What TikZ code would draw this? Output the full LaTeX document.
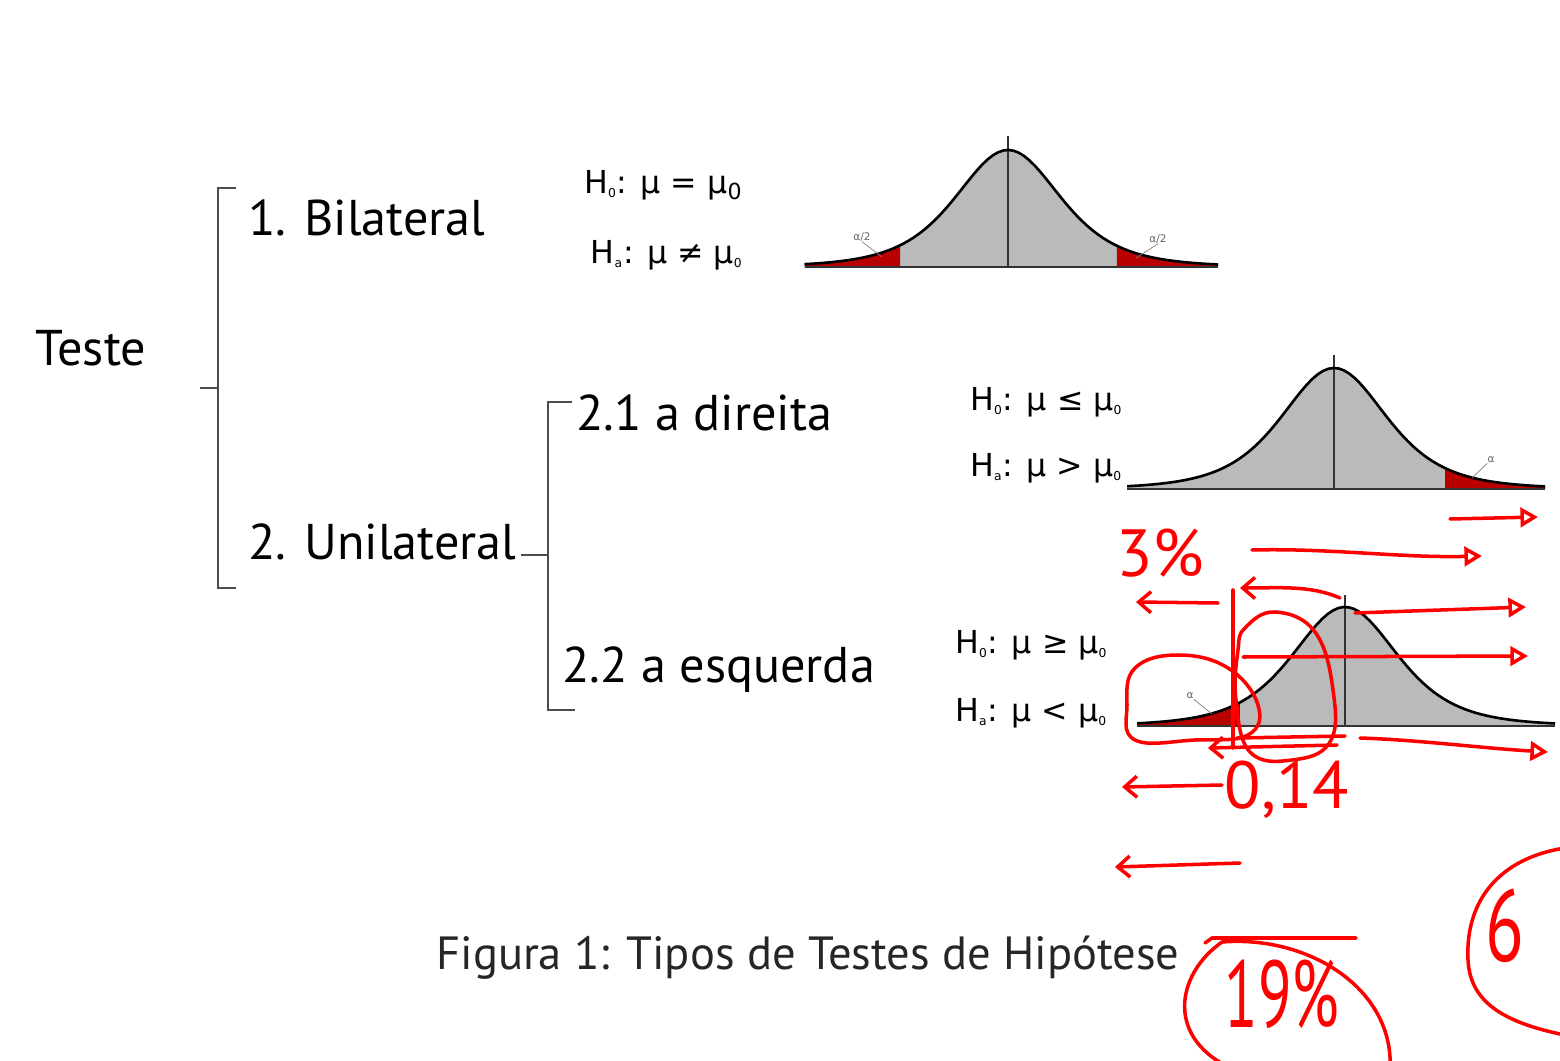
\documentclass[tikz,border=0pt]{standalone}
\usepackage{fontspec}
\setmainfont{PT Sans}
\newfontfamily\hypfont{DejaVu Sans}
\usetikzlibrary{arrows.meta, positioning, calc}
\newcommand\hs[1]{\textsubscript{\fontsize{7}{7}\selectfont #1}}

\begin{document}
\begin{tikzpicture}[
  x=0.02cm, y=-0.02cm,
  head/.style={font=\fontsize{28.6}{30}\selectfont, inner sep=0pt},
  item/.style={head, anchor=west},
  hyp/.style={font=\hypfont\fontsize{18}{20}\selectfont, inner sep=0pt},
  brk/.style={black!70, line width=1.2pt},
  area/.style={fill=black!27},
  tailfill/.style={fill=red!72!black},
  bell/.style={black, line width=1.5pt, line join=round},
  midline/.style={black!80, line width=1.2pt},
  alab/.style={font=\hypfont\fontsize{6}{6}\selectfont, text=black!60, inner sep=0pt},
  figcap/.style={font=\fontsize{26.5}{28}\selectfont, inner sep=0pt, text=black!85},
  pen/.style={red, line width=2pt, line cap=round, line join=round},
  penr/.style={pen, -{Triangle[open, length=10pt, width=11pt]}},
  penl/.style={pen, -{Straight Barb[length=7pt, width=12pt]}},
  hand/.style={font=\fontsize{38}{40}\selectfont, text=red, inner sep=0pt}
]
\clip (0,0) rectangle (1560,1061);

% tree of test types
\node[head] (teste) at (91,348) {Teste};
\node[item] (bil) at (248,218) {1. Bilateral};
\node[item] (uni) at (248,542) {2. Unilateral};
\node[item] (dir) at (576,413) {2.1 a direita};
\node[item] (esq) at (562,670) {2.2 a esquerda};

\draw[brk] (236,188) -- (218,188) -- (218,588) -- (236,588);
\draw[brk] (200,388) -- (218,388);
\draw[brk] (572,402) -- (548,402) -- (548,710) -- (575,710);
\draw[brk] (uni.east |- 0,555) ++(4,0) -- (548,555);

% hypotheses
\node[hyp, anchor=east] (h0a) at (743,185) {H\hs{0}: μ = μ\textsubscript{0}};
\node[hyp, anchor=east] (h1a) at (743,255) {H\hs{a}: μ ≠ μ\hs{0}};
\node[hyp, anchor=west] (h0b) at (970,402) {H\hs{0}: μ ≤ μ\hs{0}};
\node[hyp, anchor=west] (h1b) at (970,468) {H\hs{a}: μ > μ\hs{0}};
\node[hyp, anchor=west] (h0c) at (955,645) {H\hs{0}: μ ≥ μ\hs{0}};
\node[hyp, anchor=west] (h1c) at (955,713) {H\hs{a}: μ < μ\hs{0}};

% bell curves
\foreach \cx/\by/\h/\lo/\hi in {1008/267/117/-3.7/3.82, 1334/489/121/-3.76/3.84, 1345/726/119/-3.78/3.82}{
  \fill[area] ({\cx+55*\lo},\by) -- plot[domain=\lo:\hi, samples=80]
    ({\cx+55*\x},{\by-\h*pow(1+\x*\x/4,-2.5)}) -- ({\cx+55*\hi},\by) -- cycle;
}
\foreach \cx/\by/\h/\lo/\hi in {1008/267/117/-3.7/-1.96, 1008/267/117/1.98/3.82,
                                 1334/489/121/2.02/3.84, 1345/726/119/-3.78/-1.91}{
  \fill[tailfill] ({\cx+55*\lo},\by) -- plot[domain=\lo:\hi, samples=30]
    ({\cx+55*\x},{\by-\h*pow(1+\x*\x/4,-2.5)}) -- ({\cx+55*\hi},\by) -- cycle;
}
\foreach \cx/\by/\h/\lo/\hi/\top in {1008/267/117/-3.7/3.82/136, 1334/489/121/-3.76/3.84/355, 1345/726/119/-3.78/3.82/595}{
  \draw[midline] ({\cx+55*\lo},\by) -- ({\cx+55*\hi},\by);
  \draw[midline] (\cx,\top) -- (\cx,\by);
  \draw[bell] plot[domain=\lo:\hi, samples=80]
    ({\cx+55*\x},{\by-\h*pow(1+\x*\x/4,-2.5)});
}
\node[alab] (a1) at (862,237) {α/2};
\node[alab] (a2) at (1158,239) {α/2};
\node[alab] (a3) at (1491,460) {α};
\node[alab] (a4) at (1190,696) {α};
\draw[black!50] (a1.south) -- (882,257);
\draw[black!50] (a2.south) -- (1136,258);
\draw[black!50] (a3.south west) -- (1472,478);
\draw[black!50] (a4.south east) -- (1212,714);

\node[figcap] (fig) at (808,958) {Figura 1: Tipos de Testes de Hipótese};

% red pen notes
\draw[penr] (1450,519) -- (1538,517);
\node[hand] (n3) at (1160,553) {3\%};
\draw[penr] (1252,550) .. controls (1330,548) and (1400,558) .. (1482,556);
\draw[penl] (1218,603) -- (1136,602);
\draw[pen] (1233,590) -- (1233,748);
\draw[penl] (1340,598) .. controls (1310,585) and (1280,588) .. (1240,588);
\draw[pen] plot[smooth cycle, tension=0.7] coordinates {(1245,628) (1275,612) (1315,632) (1333,690) (1330,742) (1292,760) (1250,752) (1236,700) (1238,650)};
\draw[penr] (1355,613) -- (1526,607);
\draw[penr] (1243,657) -- (1528,656);
\draw[pen] plot[smooth cycle, tension=0.7] coordinates {(1135,668) (1178,655) (1228,668) (1258,705) (1248,735) (1195,740) (1135,740) (1127,705)};
\draw[pen] (1237,738) -- (1345,736);
\draw[penr] (1360,738) .. controls (1420,740) and (1480,748) .. (1548,752);
\draw[penl] (1337,745) -- (1208,748);
\draw[penl] (1222,785) -- (1122,787);
\node[hand] (n014) at (1287,790) {0,14};
\draw[penl] (1240,863) -- (1115,867);
\draw[pen] (1356,938) -- (1212,938) -- (1205,943);
\draw[pen] (1222,942) .. controls (1175,975) and (1165,1040) .. (1235,1070);
\draw[pen] (1222,942) .. controls (1310,935) and (1395,990) .. (1390,1070);
\node[hand, font=\fontsize{54}{56}\selectfont] (n19) at (1282,994) {\scalebox{0.65}[1]{19\%}};
\draw[pen] (1565,848) .. controls (1500,858) and (1465,900) .. (1468,960)
  .. controls (1470,1000) and (1500,1022) .. (1565,1035);
\node[hand, font=\fontsize{58}{60}\selectfont] (n6) at (1505,926) {\scalebox{0.7}[1]{6}};
\end{tikzpicture}
\end{document}
